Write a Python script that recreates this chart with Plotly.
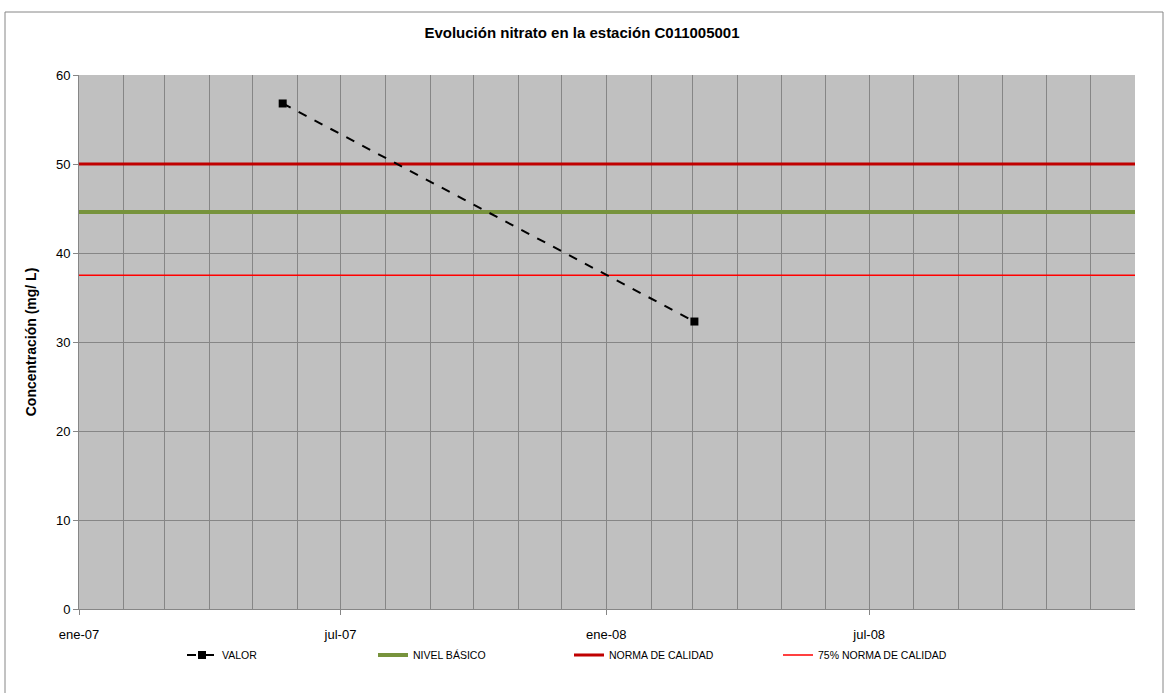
import plotly.graph_objects as go

# Data
fechas = ["2007-05-22", "2008-03-02"]
valor = [56.8, 32.3]
nivel_basico = 44.6
norma_calidad = 50.0
norma_75 = 37.5
x_inicio, x_fin = "2007-01-01", "2009-01-01"
tick_vals = ["2007-01-01", "2007-07-01", "2008-01-01", "2008-07-01"]
tick_text = ["ene-07", "jul-07", "ene-08", "jul-08"]
y_ticks = [0, 10, 20, 30, 40, 50, 60]

FONT = "Liberation Sans, Arial, sans-serif"
L, R, T, B = 79, 29, 75, 84
PW = 1164 - L - R
PH = 693 - T - B


def px_x(p):
    return (p - L) / PW


def px_y(p):
    return (693 - B - p) / PH


fig = go.Figure()
fig.add_trace(go.Scatter(
    x=[x_inicio, x_fin], y=[nivel_basico, nivel_basico], name="NIVEL BÁSICO",
    mode="lines", line=dict(color="#77933C", width=4), legend="legend2"))
fig.add_trace(go.Scatter(
    x=[x_inicio, x_fin], y=[norma_calidad, norma_calidad], name="NORMA DE CALIDAD",
    mode="lines", line=dict(color="#C00000", width=3), legend="legend3"))
fig.add_trace(go.Scatter(
    x=[x_inicio, x_fin], y=[norma_75, norma_75], name="75% NORMA DE CALIDAD",
    mode="lines", line=dict(color="#FF0000", width=1.5), legend="legend4"))
fig.add_trace(go.Scatter(
    x=fechas, y=valor, name="VALOR", mode="lines+markers",
    line=dict(color="black", width=2, dash="dash"),
    marker=dict(symbol="square", size=8, color="black"), legend="legend"))


def leg(text_x):
    return dict(orientation="h", x=px_x(text_x - 40), xanchor="left",
                y=px_y(655), yanchor="middle",
                font=dict(family=FONT, size=10.5), bgcolor="rgba(0,0,0,0)")


fig.update_layout(
    width=1164, height=693,
    margin=dict(l=L, r=R, t=T, b=B),
    paper_bgcolor="white", plot_bgcolor="#C0C0C0",
    font=dict(family=FONT, size=13, color="black"),
    title=dict(text="<b>Evolución nitrato en la estación C011005001</b>",
               x=0.5, xanchor="center", y=1 - 33 / 693, yanchor="middle",
               font=dict(family=FONT, size=15)),
    showlegend=True,
    legend=leg(222), legend2=leg(413), legend3=leg(609), legend4=leg(818),
    xaxis=dict(type="date", range=[x_inicio, x_fin],
               tickvals=tick_vals, ticktext=tick_text,
               showgrid=True, gridcolor="#868686", gridwidth=1,
               minor=dict(dtick="M1", showgrid=True, gridcolor="#868686", gridwidth=1),
               ticks="outside", ticklen=5, tickcolor="#868686",
               ticklabelstandoff=8,
               showline=True, linecolor="#868686", linewidth=1,
               tickfont=dict(family=FONT, size=13), zeroline=False),
    yaxis=dict(range=[0, 60], tickvals=y_ticks,
               showgrid=True, gridcolor="#868686", gridwidth=1,
               ticks="outside", ticklen=5, tickcolor="#868686",
               showline=True, linecolor="#868686", linewidth=1,
               tickfont=dict(family=FONT, size=13), zeroline=False,
               title=dict(text="<b>Concentración (mg/ L)</b>", standoff=16,
                          font=dict(family=FONT, size=14))),
)

# Outer chart border
fig.add_shape(type="rect", xref="paper", yref="paper",
              x0=px_x(5), x1=px_x(1163), y0=px_y(720), y1=px_y(12),
              line=dict(color="#868686", width=1), fillcolor="rgba(0,0,0,0)",
              layer="below")

fig.write_html("out.html", config={"displayModeBar": False},
               post_script="document.body.style.margin='0';")
